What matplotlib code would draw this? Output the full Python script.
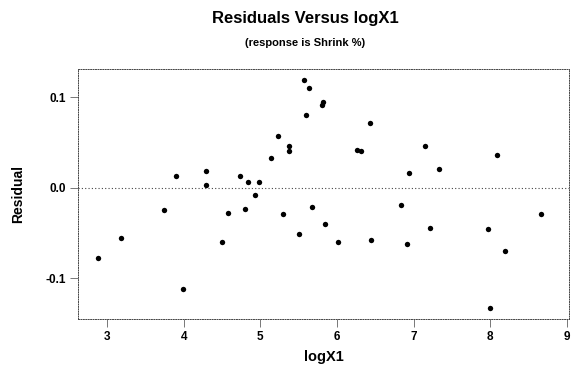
import matplotlib
matplotlib.use("Agg")
import matplotlib.pyplot as plt

logx1 = [2.887, 3.178, 3.742, 3.894, 3.990, 4.285, 4.285, 4.500, 4.580, 4.736,
         4.800, 4.845, 4.927, 4.980, 5.140, 5.231, 5.296, 5.379, 5.379, 5.500,
         5.569, 5.600, 5.639, 5.670, 5.809, 5.817, 5.840, 6.020, 6.256, 6.320,
         6.433, 6.440, 6.840, 6.920, 6.936, 7.150, 7.210, 7.330, 7.974, 7.996,
         8.087, 8.190, 8.668]
residual = [-0.078, -0.0556, -0.024, 0.0136, -0.1116, 0.0188, 0.0033, -0.0593, -0.028, 0.0136,
            -0.023, 0.0063, -0.0077, 0.006, 0.0331, 0.0575, -0.029, 0.046, 0.0409, -0.0512,
            0.119, 0.0807, 0.1108, -0.021, 0.0914, 0.095, -0.040, -0.060, 0.042, 0.0409,
            0.0722, -0.0578, -0.0184, -0.0615, 0.0162, 0.0464, -0.0439, 0.021, -0.0453, -0.1326,
            0.036, -0.0693, -0.029]
xticks = [3, 4, 5, 6, 7, 8, 9]
yticks = [-0.1, 0.0, 0.1]
ytick_labels = ["-0.1", "0.0", "0.1"]

plt.rcParams['font.family'] = ['Liberation Sans', 'DejaVu Sans']
plt.rcParams['font.weight'] = 'bold'

fig = plt.figure(figsize=(5.72, 3.70), dpi=100)
ax = fig.add_axes([78/572, 1-319/370, (569-78)/572, (319-69)/370])

ax.scatter(logx1, residual, s=15, color='black', zorder=3, linewidths=0)
ax.axhline(0, color='#444444', linestyle=(0, (1, 2)), linewidth=0.8, zorder=1)

ax.set_xlim(2.62, 9.03)
ax.set_ylim(-0.145, 0.1315)
ax.set_xticks(xticks)
ax.set_yticks(yticks)
ax.set_yticklabels(ytick_labels)
for s in ax.spines.values():
    s.set_linestyle((0, (1, 1.5)))
    s.set_linewidth(0.7)
    s.set_color('#444444')
ax.tick_params(direction='out', length=6, width=0.7, color='#777777',
               labelsize=8.5, pad=2.5)
for lab in ax.get_xticklabels() + ax.get_yticklabels():
    lab.set_fontweight('bold')

ax.set_xlabel('logX1', fontsize=10.5, fontweight='bold', labelpad=5)
ax.set_ylabel('Residual', fontsize=10, fontweight='bold', labelpad=15)

fig.text(305/572, 1-19/370, 'Residuals Versus logX1', ha='center', va='center',
         fontsize=12, fontweight='bold')
fig.text(305/572, 1-43/370, '(response is Shrink %)', ha='center', va='center',
         fontsize=8, fontweight='bold')

fig.savefig('out.png', dpi=100)
